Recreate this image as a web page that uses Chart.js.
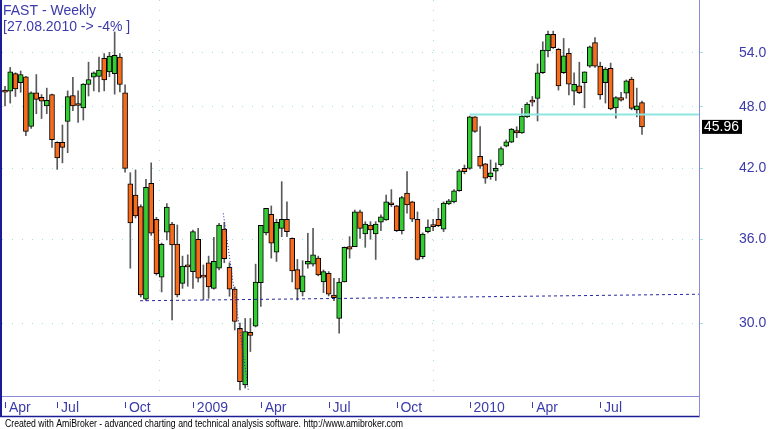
<!DOCTYPE html>
<html>
<head>
<meta charset="utf-8">
<title>FAST - Weekly</title>
<script src="https://cdn.jsdelivr.net/npm/chart.js@4.4.0/dist/chart.umd.min.js"></script>
<style>
  html,body{margin:0;padding:0;background:#fff;overflow:hidden}
  #c{display:block}
</style>
</head>
<body>
<canvas id="c" width="770" height="429" style="width:770px;height:429px"></canvas>
<script>
// weekly bars, index 0 = last week of Apr 2008, last = 27.08.2010
const opens = [49.79,49.68,51.6,50.6,51.25,46.0,49.5,49.0,48.1,49.3,
  44.45,44.45,46.5,49.2,48.25,47.9,50.4,51.2,51.3,53.35,
  51.8,51.6,53.5,49.5,40.6,39.63,38.65,31.6,40.65,37.6,
  33.15,36.55,37.2,35.62,32.7,34.0,33.55,36.0,33.3,34.2,
  32.35,33.8,36.8,33.87,32.3,29.66,26.22,29.4,29.8,32.75,
  36.5,38.0,35.0,36.86,37.6,36.07,33.7,32.1,34.1,34.1,
  34.55,32.8,33.43,31.89,30.3,32.8,35.42,35.42,38.2,36.41,
  37.13,36.41,37.35,37.54,38.85,38.72,36.68,39.8,39.05,37.6,
  34.65,36.6,37.1,37.6,36.8,38.87,39.05,40.0,42.0,42.0,
  46.97,43.1,42.4,41.24,41.75,42.3,44.07,44.45,45.6,45.35,
  46.97,48.55,48.9,51.7,54.2,56.2,54.4,51.7,53.93,49.68,
  50.25,50.6,52.45,55.2,52.45,50.6,52.2,47.9,48.97,49.45,
  51.0,47.68,48.45];
const highs = [50.2,52.3,51.7,51.9,51.3,49.6,51.5,49.3,50.0,49.35,
  44.5,46.15,49.7,51.2,49.7,50.5,52.9,51.8,53.5,53.9,
  54.05,56.5,53.9,50.35,41.6,41.85,38.8,41.0,42.5,37.75,
  35.7,38.9,37.35,37.13,34.7,34.8,36.73,36.86,34.04,34.7,
  36.15,37.27,37.35,34.2,32.45,30.0,30.3,30.3,34.1,37.1,
  38.5,38.7,37.6,40.8,39.05,36.1,34.45,34.36,36.47,36.86,
  34.7,33.67,33.55,33.07,33.07,35.4,36.2,38.36,38.36,37.4,
  37.4,37.4,37.95,39.63,40.1,38.75,39.52,41.7,39.1,38.2,
  36.5,37.54,37.6,38.5,39.05,39.26,40.1,41.9,42.3,47.05,
  47.0,45.98,42.45,42.77,42.5,44.0,44.67,45.8,45.98,47.85,
  48.45,49.1,52.7,55.3,56.6,56.6,54.5,55.7,54.5,51.7,
  52.9,51.8,54.8,55.8,52.9,52.3,52.8,49.1,49.55,50.9,
  51.2,50.0,48.6];
const lows = [48.1,48.4,49.1,49.55,45.1,45.8,47.3,46.8,47.3,43.95,
  41.9,42.5,43.45,47.6,46.4,46.65,49.15,49.7,49.6,49.7,
  51.25,49.35,49.6,41.65,33.8,37.7,31.75,31.5,36.3,33.3,
  32.1,35.94,30.2,31.75,32.35,32.5,32.35,32.8,31.54,31.66,
  32.3,33.67,34.2,31.8,29.55,25.94,26.05,28.2,29.75,31.1,
  36.33,34.55,34.3,36.2,36.2,32.8,31.54,31.82,33.8,33.95,
  33.24,32.05,31.82,31.5,29.34,32.8,34.55,35.42,36.07,35.37,
  36.0,34.45,36.68,37.5,38.65,36.6,36.41,38.1,37.4,34.4,
  34.5,36.5,36.68,37.0,36.6,38.8,38.95,39.95,41.5,41.9,
  45.4,42.0,40.65,41.0,40.9,42.2,44.0,44.4,44.9,45.3,
  46.9,48.1,46.55,51.6,53.5,54.5,49.79,51.6,49.26,48.2,
  49.4,47.9,52.3,52.3,48.8,48.4,47.7,46.85,48.6,48.9,
  47.7,46.97,45.2];
const closes = [49.55,51.8,49.9,51.5,45.5,49.5,48.8,48.6,48.7,44.7,
  42.95,43.95,49.1,48.1,48.15,50.45,50.95,51.7,52.0,50.9,
  53.6,53.7,50.4,42.0,37.3,37.87,31.9,40.3,36.47,33.4,
  35.6,38.6,35.55,31.89,33.96,33.9,36.6,33.07,33.15,32.45,
  34.3,37.13,34.5,32.3,30.1,26.41,29.45,29.2,32.8,37.1,
  38.5,35.7,37.35,37.6,36.6,33.6,32.3,33.24,34.3,34.8,
  33.31,33.55,31.94,31.7,32.8,35.37,35.22,38.2,36.86,37.2,
  36.73,37.2,37.8,39.05,38.8,36.68,39.4,38.78,37.6,34.45,
  36.41,36.96,37.0,37.08,38.95,39.14,40.0,41.78,41.7,46.97,
  45.5,42.2,41.1,41.6,42.0,43.85,44.5,45.75,45.35,47.05,
  48.3,48.5,51.7,54.32,56.2,54.6,50.25,53.65,50.42,50.42,
  49.5,51.8,54.7,52.45,49.26,52.1,47.8,48.97,48.72,50.8,
  47.85,48.1,45.96];

// axis labels
const tickIdx  = [0, 10, 23, 36, 49, 62, 75, 89, 101, 114];
const tickText = ['Apr','Jul','Oct','2009','Apr','Jul','Oct','2010','Apr','Jul'];
const yearIdx  = [36, 89];
const priceTicks = [30, 36, 42, 48, 54];
const xRange = [-0.5746, 132.92];
const yRange = [25.60, 60.56];

// drawn study lines: [bar index, price]
const supportLine = [[25.86, 31.49], [132.9, 31.94]];
const crashLine   = [[41.81, 38.08], [46.6, 25.94]];
const resistLine  = [[89, 47.22], [132.9, 47.22]];

const title = 'FAST - Weekly';
const subtitle = '[27.08.2010 -> -4% ]';
const footer = 'Created with AmiBroker - advanced charting and technical analysis software. http://www.amibroker.com';

const FONT = '"Liberation Sans", Arial, sans-serif';
const BLUE = '#3b3bab';
const GRID = '#9fe0e0';
const UP = '#33cc33', DOWN = '#f76b1c';

const idx = closes.map((_, i) => i);
const wickData = idx.map(i => ({x: i, y: [lows[i], highs[i]]}));
const bodyData = idx.map(i => ({x: i, y: [Math.min(opens[i], closes[i]), Math.max(opens[i], closes[i])]}));
const bodyColors = idx.map(i => closes[i] >= opens[i] ? UP : DOWN);
const pts = arr => arr.map(p => ({x: p[0], y: p[1]}));

// tick padding would otherwise push the plot area in
const noPad = s => { s.paddingTop = 0; s.paddingBottom = 0; s.paddingLeft = 0; s.paddingRight = 0; };

const decor = {
  id: 'decor',
  afterDraw(chart){
    const {ctx, scales: {x, y}} = chart;
    ctx.save();
    // frame
    ctx.strokeStyle = '#1c1c96'; ctx.lineWidth = 2;
    ctx.beginPath(); ctx.moveTo(1, 0); ctx.lineTo(1, 417); ctx.stroke();
    ctx.lineWidth = 1.5;
    ctx.beginPath(); ctx.moveTo(0, 416.5); ctx.lineTo(700, 416.5); ctx.stroke();
    ctx.strokeStyle = '#8a8ad6'; ctx.lineWidth = 1;
    ctx.beginPath(); ctx.moveTo(699.5, 0); ctx.lineTo(699.5, 417); ctx.stroke();
    // date tick marks
    ctx.strokeStyle = BLUE;
    x.ticks.forEach(t => {
      const px = Math.round(x.getPixelForValue(t.value)) + 0.5;
      ctx.beginPath(); ctx.moveTo(px, 402); ctx.lineTo(px, 408); ctx.stroke();
    });
    // title
    ctx.fillStyle = BLUE; ctx.font = '14px ' + FONT;
    ctx.textAlign = 'left'; ctx.textBaseline = 'alphabetic';
    ctx.fillText(title, 3, 14.5);
    ctx.fillText(subtitle, 3, 30.5);
    // last price tag
    const last = closes[closes.length - 1];
    const py = y.getPixelForValue(last);
    ctx.fillStyle = '#000'; ctx.fillRect(702, py - 7, 40, 14);
    ctx.fillStyle = '#fff'; ctx.font = '14px ' + FONT; ctx.textBaseline = 'middle';
    ctx.fillText(last.toFixed(2), 704, py + 0.5);
    // footer
    ctx.fillStyle = '#000'; ctx.font = '10px ' + FONT; ctx.textBaseline = 'alphabetic';
    const w = ctx.measureText(footer).width;
    ctx.translate(5, 427); ctx.scale(398 / w, 1);
    ctx.fillText(footer, 0, 0);
    ctx.restore();
  }
};

new Chart(document.getElementById('c'), {
  type: 'bar',
  data: {
    datasets: [
      {type: 'line', data: pts(supportLine), borderColor: '#2525a5', borderWidth: 1, borderDash: [3, 3], pointRadius: 0, order: 0},
      {type: 'line', data: pts(crashLine), borderColor: '#2525a5', borderWidth: 1, borderDash: [1, 2], pointRadius: 0, order: 0},
      {type: 'line', data: pts(resistLine), borderColor: '#8ee6e2', borderWidth: 2, pointRadius: 0, order: 0},
      {data: bodyData, backgroundColor: bodyColors, borderColor: '#000', borderWidth: 1, borderSkipped: false,
       barThickness: 5, minBarLength: 2, grouped: false, order: 1},
      {data: wickData, backgroundColor: '#5a5a5a', barThickness: 1, grouped: false, order: 2}
    ]
  },
  options: {
    responsive: false,
    animation: false,
    layout: {padding: {left: 2, right: 0, top: 0, bottom: 13}},
    plugins: {legend: {display: false}, tooltip: {enabled: false}},
    scales: {
      x: {
        type: 'linear', min: xRange[0], max: xRange[1], offset: false, bounds: 'data',
        afterBuildTicks: s => { s.ticks = tickIdx.map(v => ({value: v})); s.min = xRange[0]; s.max = xRange[1]; },
        afterFit: s => { s.height = 20; noPad(s); },
        ticks: {autoSkip: false, maxRotation: 0, align: 'start', padding: 4, color: BLUE,
                font: {family: FONT, size: 14}, callback: (v, i) => ' ' + tickText[i]},
        grid: {drawTicks: false, color: c => (c.tick && yearIdx.includes(c.tick.value)) ? GRID : 'rgba(0,0,0,0)'},
        border: {color: '#8a8ad6', dash: [1, 9]}
      },
      y: {
        type: 'logarithmic', position: 'right', min: yRange[0], max: yRange[1], bounds: 'data',
        afterBuildTicks: s => { s.ticks = priceTicks.map(v => ({value: v})); s.min = yRange[0]; s.max = yRange[1]; },
        afterFit: s => { s.width = 71; noPad(s); },
        ticks: {color: BLUE, padding: 36, font: {family: FONT, size: 14}, callback: v => Number(v).toFixed(1)},
        grid: {color: GRID, tickLength: 4, tickColor: GRID},
        border: {color: '#8a8ad6', dash: [1, 9]}
      }
    }
  },
  plugins: [decor]
});
</script>
</body>
</html>
